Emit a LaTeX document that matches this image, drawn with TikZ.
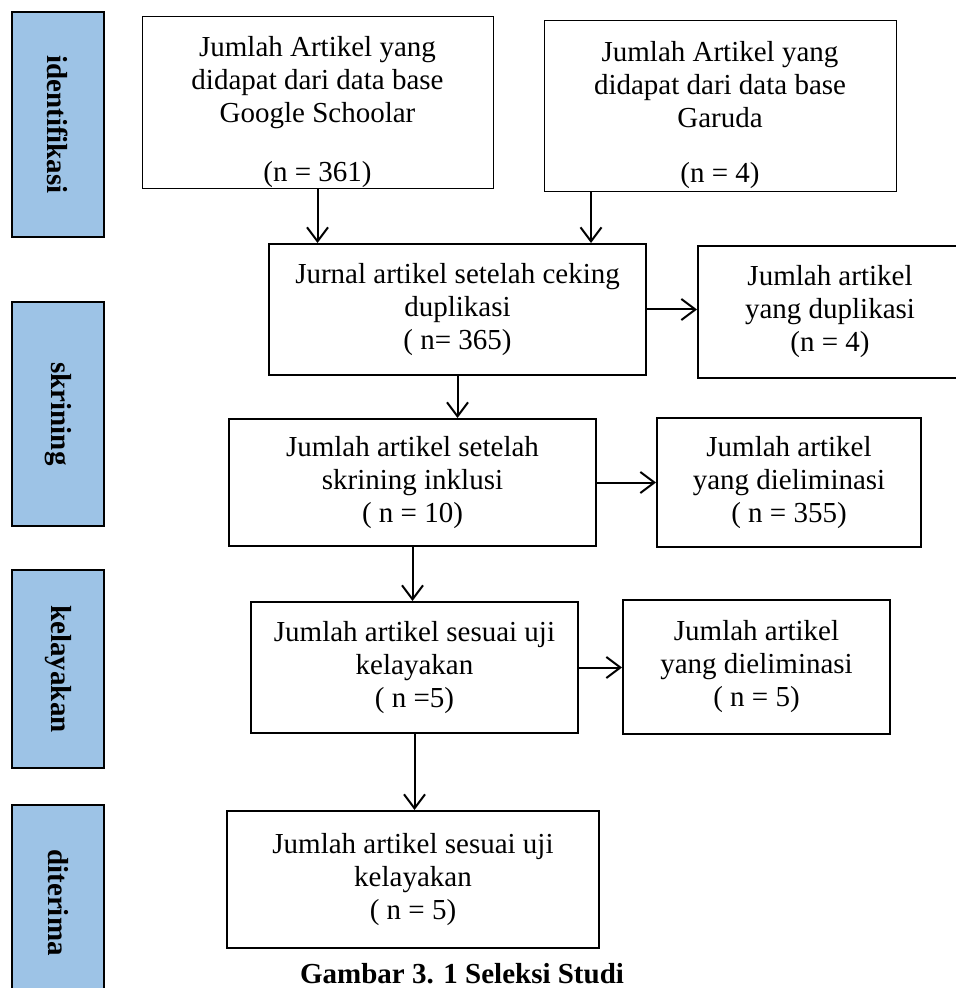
\documentclass[tikz,border=0pt]{standalone}
\usepackage{fontspec}
\setmainfont{Liberation Serif}
\usetikzlibrary{positioning}
\usetikzlibrary{arrows.meta}
\definecolor{sideblue}{RGB}{157,195,230}
\tikzset{>={Straight Barb[length=7pt,width=10.5pt]}}
\tikzset{box/.style={draw, line width=1pt, align=center, inner sep=0pt, font=\fontsize{14.5}{16.5}\selectfont}}
\tikzset{dbbox/.style={box, line width=0.5pt}}
\tikzset{side/.style={draw, line width=1pt, fill=sideblue, rotate=-90, minimum height=46pt, inner sep=0pt, font=\fontsize{14.5}{16.5}\selectfont\bfseries}}
\tikzset{arr/.style={->, line width=1pt}}

\begin{document}
\begin{tikzpicture}[x=0.5pt,y=-0.5pt]
\useasboundingbox (0,0) rectangle (955,988);

% tahap
\node (idf) [side, minimum width=112.5pt] at (58,124.5) {identifikasi};
\node (skr) [side, minimum width=112pt] at (58,414) {skrining};
\node (kel) [side, minimum width=99pt] at (58,669) {kelayakan};
\node (ter) [side, minimum width=97.5pt] at (58,902.5) {diterima};

% kotak
\node (google) [dbbox, minimum width=175.5pt, minimum height=85.5pt] at (317.5,102.5)
  {\rule{0pt}{20pt}Jumlah Artikel yang\\didapat dari data base\\Google Schoolar\\[13pt](n = 361)};
\node (garuda) [dbbox, minimum width=176pt, minimum height=85.5pt] at (720,106.5)
  {\rule{0pt}{19pt}Jumlah Artikel yang\\didapat dari data base\\Garuda\\[11pt](n = 4)};
\node (cek) [box, minimum width=188.5pt, minimum height=65.5pt] at (457.5,309.5)
  {Jurnal artikel setelah ceking\\duplikasi\\( n= 365)};
\node (dup) [box, minimum width=132pt, minimum height=66pt] at (830,312)
  {Jumlah artikel\\yang duplikasi\\(n = 4)};
\node (inkl) [box, minimum width=183.5pt, minimum height=63.5pt] at (412.5,482.5)
  {Jumlah artikel setelah\\skrining inklusi\\( n = 10)};
\node (elim1) [box, minimum width=132pt, minimum height=64.5pt] at (789,482.5)
  {Jumlah artikel\\yang dieliminasi\\( n = 355)};
\node (layak) [box, minimum width=163.5pt, minimum height=65.5pt] at (414.5,667.5)
  {Jumlah artikel sesuai uji\\kelayakan\\( n =5)};
\node (elim2) [box, minimum width=133.5pt, minimum height=67pt] at (756.5,667)
  {Jumlah artikel\\yang dieliminasi\\( n = 5)};
\node (terima) [box, minimum width=186pt, minimum height=68.5pt] at (413,879.5)
  {Jumlah artikel sesuai uji\\kelayakan\\( n = 5)};

\node (capt) [anchor=base, font=\fontsize{14.5}{16.5}\selectfont\bfseries] at (462,983) {Gambar 3. 1 Seleksi Studi};

% panah
\draw[arr] (google.south) -- (google.south |- cek.north);
\draw[arr] ([xshift=-64.5pt]garuda.south) -- ([xshift=-64.5pt]garuda.south |- cek.north);
\draw[arr] (cek.east) -- (cek.east -| dup.west);
\draw[arr] (cek.south) -- (cek.south |- inkl.north);
\draw[arr] (inkl.east) -- (inkl.east -| elim1.west);
\draw[arr] (inkl.south) -- (inkl.south |- layak.north);
\draw[arr] (layak.east) -- (layak.east -| elim2.west);
\draw[arr] (layak.south) -- (layak.south |- terima.north);
\end{tikzpicture}
\end{document}
